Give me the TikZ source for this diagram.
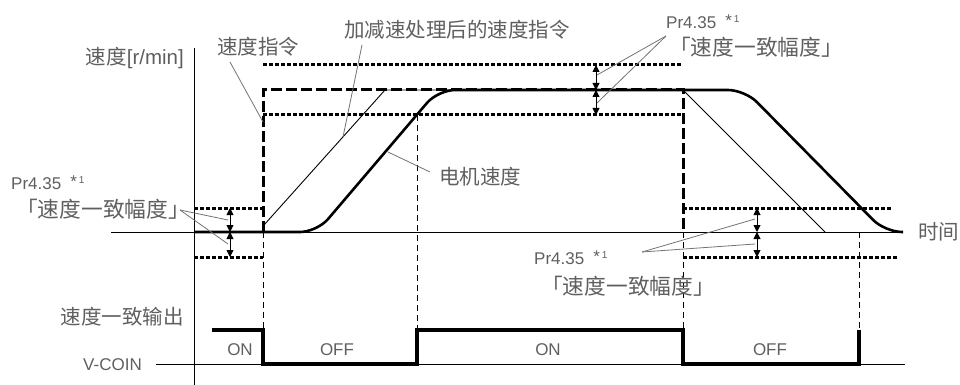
\documentclass[tikz,border=0pt]{standalone}
\usepackage{fontspec}
\setmainfont{Noto Sans CJK SC}
\newfontfamily\latinfont{Liberation Sans}
\usepackage{tikz}
\usetikzlibrary{arrows.meta}
\definecolor{txtgray}{RGB}{95,95,95}
\definecolor{leadgray}{RGB}{115,115,115}
\tikzset{
  lbl/.style={text=txtgray, inner sep=0pt, font=\fontsize{20.5}{22}\selectfont},
  rng/.style={text=txtgray, inner sep=0pt, font=\fontsize{21.7}{23}\selectfont},
  num/.style={text=txtgray, inner sep=0pt, font=\latinfont\fontsize{17}{18}\selectfont},
  cmdline/.style={line width=3pt, dash pattern=on 11pt off 4pt},
  band/.style={line width=3pt, dash pattern=on 3.5pt off 2.5pt},
  guide/.style={line width=0.9pt, dash pattern=on 6pt off 4pt},
  motor/.style={line width=2.6pt, rounded corners=17pt},
  leader/.style={draw=leadgray, line width=0.8pt},
  bandarrow/.style={line width=0.9pt, {Triangle[length=7pt,width=7pt]}-{Triangle[length=7pt,width=7pt]}}
}
\newcommand{\prtext}{Pr4.35\hspace{9pt}\raisebox{2pt}{*}\hspace{2pt}\raisebox{6pt}{\fontsize{10}{10}\selectfont 1}}

\begin{document}
\begin{tikzpicture}[x=1pt,y=-1pt]
\useasboundingbox (0,0) rectangle (960,385);

\draw[line width=1pt] (194,48) -- (194,385);
\draw[line width=1pt] (111,232) -- (902,232);
\draw[line width=1pt] (156,364) -- (905,364);

\draw[band] (263,65) -- (682,65);
\draw[band] (263,115) -- (682,115);
\draw[band] (194,208) -- (263,208);
\draw[band] (194,257) -- (263,257);
\draw[band] (683,208) -- (892,208);
\draw[band] (683,257) -- (898,257);

\draw[guide] (263,232) -- (263,330);
\draw[guide] (417,115) -- (417,330);
\draw[guide] (683,232) -- (683,330);
\draw[guide] (859,232) -- (859,330);

\draw[cmdline] (263,232) -- (263,90) -- (683,90) -- (683,232);
\draw[line width=0.9pt] (264,225) -- (385,90) -- (683,90) -- (825,232);
\draw[motor] (194,232) -- (317,232) -- (438,90) -- (745,90) -- (885,232) -- (903,232);

\draw[line width=3.2pt] (212,330) -- (263,330) -- (263,364) -- (417,364) -- (417,330) -- (683,330) -- (683,364) -- (859,364) -- (859,330);

\coordinate (upT) at (596,65);
\coordinate (upM) at (596,90);
\coordinate (upB) at (596,115);
\coordinate (lfT) at (230,208);
\coordinate (lfM) at (230,232);
\coordinate (lfB) at (230,257);
\coordinate (rtT) at (757,208);
\coordinate (rtM) at (757,232);
\coordinate (rtB) at (757,257);
\draw[bandarrow] (upT) -- (upM);
\draw[bandarrow] (upM) -- (upB);
\draw[bandarrow] (lfT) -- (lfM);
\draw[bandarrow] (lfM) -- (lfB);
\draw[bandarrow] (rtT) -- (rtM);
\draw[bandarrow] (rtM) -- (rtB);

\node (speedaxis) [lbl, anchor=east] at (184,58) {速度{\latinfont[r/min]}};
\node (timeaxis) [lbl, anchor=west] at (918,232) {时间};
\node (cmdlbl) [lbl, anchor=west] at (217,47) {速度指令};
\node (ramplbl) [lbl, anchor=west] at (344,30) {加减速处理后的速度指令};
\node (motorlbl) [lbl, anchor=west] at (439,177) {电机速度};
\node (outlbl) [lbl, anchor=east] at (184,317) {速度一致输出};
\node (coinlbl) [num, anchor=east] at (142,365) {V-COIN};

\node (prA) [num, anchor=west] at (11,183) {\prtext};
\node (rngA) [rng, anchor=west] at (16,209) {「速度一致幅度」};
\node (prB) [num, anchor=west] at (666,22) {\prtext};
\node (rngB) [rng, anchor=west] at (669,47) {「速度一致幅度」};
\node (prC) [num, anchor=west] at (534,258) {\prtext};
\node (rngC) [rng, anchor=west] at (541,286) {「速度一致幅度」};

\node (on1) [num] at (240,350) {ON};
\node (off1) [num] at (337,350) {OFF};
\node (on2) [num] at (548,350) {ON};
\node (off2) [num] at (770,350) {OFF};

\coordinate (apA) at (180,210);
\coordinate (apB) at (666,36);
\coordinate (apC) at (642,252);
\draw[leader] (apA) -- (228,220);
\draw[leader] (apA) -- (228,244);
\draw[leader] (apB) -- (597,75);
\draw[leader] (apB) -- (597,103);
\draw[leader] (apC) -- (755,219);
\draw[leader] (apC) -- (755,244);

\coordinate (cmdtip) at (263,122);
\coordinate (ramptip) at (343,137);
\coordinate (motortip) at (388,152);
\draw[leader] (230,62) -- (cmdtip);
\draw[leader] (362,45) -- (ramptip);
\draw[leader] (430,172) -- (motortip);
\end{tikzpicture}
\end{document}
